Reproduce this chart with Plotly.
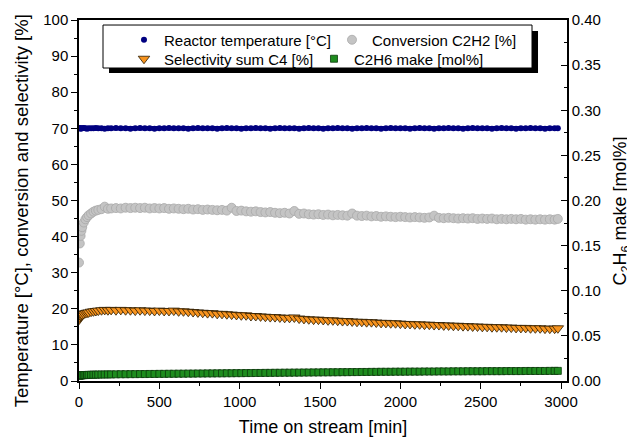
import plotly.graph_objects as go

time_min = [0, 5, 10, 15, 20, 30, 40, 50, 60, 75,
            90, 105, 120, 140, 160, 180, 200, 230, 260, 290,
            320, 350, 380, 410, 440, 470, 500, 530, 560, 590,
            620, 650, 680, 710, 740, 770, 800, 830, 860, 890,
            920, 950, 980, 1010, 1040, 1070, 1100, 1130, 1160, 1190,
            1220, 1250, 1280, 1310, 1340, 1370, 1400, 1430, 1460, 1490,
            1520, 1550, 1580, 1610, 1640, 1670, 1700, 1730, 1760, 1790,
            1820, 1850, 1880, 1910, 1940, 1970, 2000, 2030, 2060, 2090,
            2120, 2150, 2180, 2210, 2240, 2270, 2300, 2330, 2360, 2390,
            2420, 2450, 2480, 2510, 2540, 2570, 2600, 2630, 2660, 2690,
            2720, 2750, 2780, 2810, 2840, 2870, 2900, 2930, 2960, 2980]

reactor_temp = [70.1, 70.0, 69.9, 70.0, 70.0, 70.1, 70.0, 69.9, 70.0, 70.0,
                70.0, 70.1, 70.0, 70.0, 69.9, 70.0, 70.0, 70.1, 70.0, 70.0,
                69.9, 70.0, 70.1, 70.0, 70.0, 69.9, 70.0, 70.0, 70.1, 70.0,
                70.0, 70.0, 69.9, 70.0, 70.1, 70.0, 70.0, 70.0, 69.9, 70.0,
                70.1, 70.0, 70.0, 69.9, 70.0, 70.0, 70.1, 70.0, 70.0, 69.9,
                70.0, 70.1, 70.0, 70.0, 70.0, 69.9, 70.0, 70.1, 70.0, 70.0,
                69.9, 70.0, 70.0, 70.1, 70.0, 70.0, 69.9, 70.0, 70.0, 70.1,
                70.0, 70.0, 69.9, 70.0, 70.1, 70.0, 70.0, 70.0, 69.9, 70.0,
                70.1, 70.0, 70.0, 69.9, 70.0, 70.0, 70.1, 70.0, 70.0, 69.9,
                70.0, 70.1, 70.0, 70.0, 70.0, 69.9, 70.0, 70.1, 70.0, 70.0,
                69.9, 70.0, 70.0, 70.1, 70.0, 70.0, 69.9, 70.0, 70.0, 70.0]

conversion_c2h2 = [32.8, 38.1, 40.2, 41.6, 42.6, 43.9, 44.8, 45.4, 45.9, 46.4,
                   46.9, 47.2, 47.4, 47.6, 48.3, 47.7, 47.8, 47.9, 47.8, 48.0,
                   47.9, 48.0, 47.9, 48.0, 47.8, 47.9, 47.8, 47.9, 47.7, 47.8,
                   47.7, 47.6, 47.7, 47.5, 47.6, 47.4, 47.5, 47.4, 47.3, 47.4,
                   47.2, 48.0, 47.1, 47.2, 47.0, 46.9, 47.0, 46.8, 46.7, 46.8,
                   46.6, 46.5, 46.6, 46.4, 47.1, 46.3, 46.4, 46.2, 46.1, 46.2,
                   46.0, 46.1, 45.9, 46.0, 45.9, 45.8, 46.4, 45.8, 45.7, 45.8,
                   45.6, 45.7, 45.5, 45.6, 45.5, 45.4, 45.5, 45.4, 45.3, 45.4,
                   45.3, 45.2, 45.3, 45.8, 45.2, 45.1, 45.2, 45.1, 45.0, 45.1,
                   45.0, 45.1, 44.9, 45.0, 44.9, 45.0, 44.8, 44.9, 44.8, 44.9,
                   44.8, 44.9, 44.7, 44.8, 44.7, 44.8, 44.7, 44.8, 44.7, 44.9]

selectivity_c4 = [17.0, 17.6, 18.0, 18.2, 18.4, 18.6, 18.8, 18.9, 19.0, 19.2,
                  19.3, 19.4, 19.5, 19.6, 19.7, 19.6, 19.7, 19.6, 19.7, 19.6,
                  19.6, 19.5, 19.6, 19.5, 19.5, 19.4, 19.5, 19.4, 19.4, 19.5,
                  19.3, 19.3, 19.2, 19.1, 19.0, 18.9, 18.8, 18.8, 18.6, 18.6,
                  18.5, 18.4, 18.3, 18.2, 18.2, 18.0, 18.0, 17.9, 17.8, 17.7,
                  17.7, 17.6, 17.5, 17.5, 17.6, 17.3, 17.2, 17.1, 17.0, 17.0,
                  16.9, 16.8, 16.8, 16.7, 16.6, 16.6, 16.5, 16.4, 16.4, 16.3,
                  16.3, 16.2, 16.1, 16.1, 16.0, 16.0, 15.9, 15.8, 15.8, 15.7,
                  15.7, 15.6, 15.6, 15.5, 15.5, 15.4, 15.4, 15.3, 15.3, 15.2,
                  15.2, 15.1, 15.1, 15.0, 15.0, 14.9, 14.9, 14.9, 14.8, 14.8,
                  14.7, 14.7, 14.7, 14.6, 14.6, 14.6, 14.5, 14.5, 14.5, 14.6]

c2h6_make = [0.0058, 0.0060, 0.0062, 0.0063, 0.0064, 0.0065, 0.0066, 0.0067, 0.0068, 0.0069,
             0.0070, 0.0070, 0.0071, 0.0072, 0.0072, 0.0073, 0.0073, 0.0074, 0.0075, 0.0075,
             0.0076, 0.0076, 0.0077, 0.0077, 0.0078, 0.0078, 0.0079, 0.0079, 0.0080, 0.0080,
             0.0081, 0.0081, 0.0082, 0.0082, 0.0083, 0.0083, 0.0084, 0.0084, 0.0085, 0.0085,
             0.0086, 0.0086, 0.0087, 0.0087, 0.0088, 0.0088, 0.0089, 0.0089, 0.0090, 0.0090,
             0.0091, 0.0091, 0.0092, 0.0092, 0.0093, 0.0093, 0.0094, 0.0094, 0.0095, 0.0095,
             0.0096, 0.0096, 0.0097, 0.0097, 0.0098, 0.0098, 0.0099, 0.0099, 0.0100, 0.0100,
             0.0101, 0.0101, 0.0102, 0.0102, 0.0102, 0.0103, 0.0103, 0.0103, 0.0104, 0.0104,
             0.0104, 0.0105, 0.0105, 0.0105, 0.0106, 0.0106, 0.0106, 0.0107, 0.0107, 0.0107,
             0.0108, 0.0108, 0.0108, 0.0108, 0.0109, 0.0109, 0.0109, 0.0109, 0.0110, 0.0110,
             0.0110, 0.0110, 0.0111, 0.0111, 0.0111, 0.0111, 0.0111, 0.0112, 0.0112, 0.0112]

series_names = ["Reactor temperature [°C]", "Conversion C2H2 [%]",
                "Selectivity sum C4 [%]", "C2H6 make [mol%]"]

FONT = "Arial, 'Liberation Sans', sans-serif"

fig = go.Figure()
# dense temperature record drawn as a continuous band behind its markers
fig.add_trace(go.Scatter(
    x=time_min, y=reactor_temp, mode="lines", showlegend=False, hoverinfo="skip",
    line=dict(color="#000080", width=4.5)))
fig.add_trace(go.Scatter(
    x=time_min, y=reactor_temp, mode="markers", name=series_names[0], legend="legend",
    marker=dict(symbol="circle", size=6, color="#000080", line=dict(width=0))))
fig.add_trace(go.Scatter(
    x=time_min, y=conversion_c2h2, mode="markers", name=series_names[1], legend="legend",
    marker=dict(symbol="circle", size=9, color="#C4C4C4", line=dict(width=0.8, color="#A8A8A8"))))
fig.add_trace(go.Scatter(
    x=time_min, y=selectivity_c4, mode="markers", name=series_names[2], legend="legend2",
    marker=dict(symbol="triangle-down", size=10, color="#F7931E", line=dict(width=0.8, color="#2a1a00"))))
fig.add_trace(go.Scatter(
    x=time_min, y=c2h6_make, mode="markers", name=series_names[3], yaxis="y2", legend="legend2",
    marker=dict(symbol="square", size=7, color="#1E8C1E", line=dict(width=0.8, color="#0B3A0B"))))

tickfont = dict(family=FONT, size=15, color="black")
line_kw = dict(showline=True, linecolor="black", linewidth=1.5, showgrid=False, zeroline=False,
               tickcolor="black", tickwidth=1.3, ticklen=6, tickfont=tickfont)

legend_common = dict(orientation="h", xanchor="left", yanchor="top",
                     bgcolor="rgba(0,0,0,0)", borderwidth=0,
                     font=dict(family=FONT, size=15, color="black"),
                     entrywidthmode="pixels", traceorder="normal")

# The page body has an 8px margin, so the figure is shrunk by 8px and placed inside it.
fig.update_layout(
    width=627, height=431,
    margin=dict(l=71, r=68, t=12, b=58, autoexpand=False),
    paper_bgcolor="white", plot_bgcolor="white",
    font=dict(family=FONT, color="black"),
    xaxis=dict(range=[0, 3037], dtick=500, tick0=0, ticks="outside", mirror=True,
               minor=dict(dtick=250, ticks="outside", ticklen=3, tickwidth=1.2, tickcolor="black"),
               title=dict(text="Time on stream [min]", font=dict(family=FONT, size=18), standoff=12),
               **line_kw),
    yaxis=dict(range=[0, 100], dtick=10, tick0=0, ticks="outside",
               minor=dict(dtick=5, ticks="outside", ticklen=3, tickwidth=1.2, tickcolor="black"),
               **line_kw),
    yaxis2=dict(range=[0, 0.4], dtick=0.05, tick0=0, tickformat=".2f", overlaying="y", side="right",
                ticks="inside",
                minor=dict(dtick=0.025, ticks="inside", ticklen=3, tickwidth=1.2, tickcolor="black"),
                **line_kw),
    legend=dict(x=0.0922, y=0.9903, entrywidth=163, **legend_common),
    legend2=dict(x=0.0922, y=0.9377, entrywidth=145, **legend_common),
    showlegend=True,
    shapes=[
        dict(type="rect", xref="paper", yref="paper", x0=0.0615, x1=0.9406, y0=0.8532, y1=0.9695,
             fillcolor="black", line=dict(width=0), layer="above"),
        dict(type="rect", xref="paper", yref="paper", x0=0.0492, x1=0.9283, y0=0.8670, y1=0.9861,
             fillcolor="white", line=dict(width=1, color="black"), layer="above"),
    ],
    annotations=[
        dict(text="Temperature [°C], conversion and selectivity [%]", textangle=-90,
             xref="paper", yref="paper", x=-0.119, y=0.473, xanchor="center", yanchor="middle",
             showarrow=False, font=dict(family=FONT, size=18.5, color="black")),
        dict(text="C<sub>2</sub>H<sub>6</sub> make [mol%]", textangle=-90,
             xref="paper", yref="paper", x=1.1127, y=0.472, xanchor="center", yanchor="middle",
             showarrow=False, font=dict(family=FONT, size=18, color="black")),
    ],
)

fig.write_html("out.html")
